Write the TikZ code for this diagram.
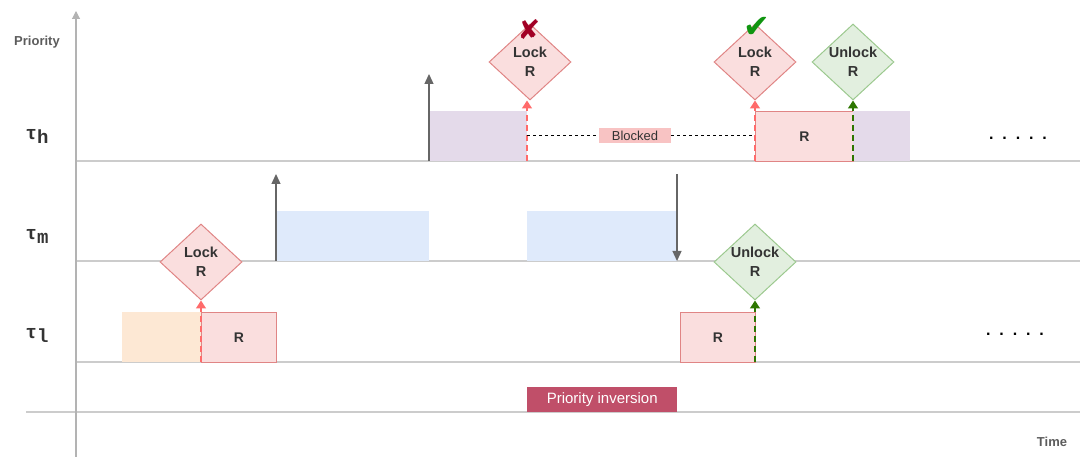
\documentclass[tikz,border=0pt]{standalone}
\usepackage{fontspec}
\setmainfont{Liberation Sans}
\newfontfamily\monofont{Liberation Mono}
\newfontfamily\symfont{DejaVu Sans}
\usetikzlibrary{shapes.geometric,arrows.meta}
\definecolor{gridc}{HTML}{CCCCCC}
\definecolor{axisc}{HTML}{B3B3B3}
\definecolor{txtc}{HTML}{333333}
\definecolor{arrc}{HTML}{666666}
\definecolor{purplef}{HTML}{E4DAEA}
\definecolor{bluef}{HTML}{DFEAFB}
\definecolor{orangef}{HTML}{FDE8D4}
\definecolor{redf}{HTML}{FADEDE}
\definecolor{redd}{HTML}{E08585}
\definecolor{redarr}{HTML}{FF6B6B}
\definecolor{greenf}{HTML}{E2EFDF}
\definecolor{greend}{HTML}{9CC98F}
\definecolor{greenarr}{HTML}{2D7600}
\definecolor{blockf}{HTML}{F8C3C3}
\definecolor{invf}{HTML}{C04F69}
\definecolor{crossc}{HTML}{A20025}
\definecolor{checkc}{HTML}{109510}
\tikzset{
  gridline/.style={draw=gridc, line width=1.1pt},
  axis/.style={draw=axisc, line width=1.1pt, -{Triangle[length=8pt,width=8pt]}},
  preempt/.style={draw=arrc, line width=1.3pt, -{Triangle[length=10pt,width=9pt]}},
  taskbox/.style={draw=none, inner sep=0pt, anchor=north west},
  resbox/.style={draw=redd, fill=redf, line width=1pt, inner sep=0pt, anchor=north west,
     font=\fontsize{14}{16}\selectfont\bfseries, text=txtc},
  lockd/.style={diamond, draw=redd, fill=redf, line width=1pt, inner sep=0pt,
     minimum width=82pt, minimum height=76pt, aspect=1.08},
  unlockd/.style={diamond, draw=greend, fill=greenf, line width=1pt, inner sep=0pt,
     minimum width=82pt, minimum height=76pt, aspect=1.08},
  dlabel/.style={align=center, inner sep=0pt, font=\fontsize{14.5}{19}\selectfont\bfseries, text=txtc},
  reddash/.style={draw=redarr, line width=1.3pt, dash pattern=on 6pt off 4pt,
     -{Triangle[length=8pt,width=10pt]}},
  greendash/.style={draw=greenarr, line width=1.3pt, dash pattern=on 6pt off 4pt,
     -{Triangle[length=8pt,width=10pt]}},
  tasklbl/.style={font=\monofont\fontsize{19}{20}\selectfont\bfseries, text=txtc},
  axlbl/.style={font=\fontsize{13}{15}\selectfont\bfseries, text=arrc!90!black},
  dots/.style={font=\fontsize{16}{16}\selectfont\bfseries, text=black},
  signmark/.style={inner sep=0pt},
}
\begin{document}
\begin{tikzpicture}[x=1pt,y=-1pt]
\useasboundingbox (0,0) rectangle (1080,457);
% grid lines
\coordinate (g1a) at (76,161); \coordinate (g1b) at (1080,161);
\coordinate (g2a) at (76,261); \coordinate (g2b) at (1080,261);
\coordinate (g3a) at (76,362); \coordinate (g3b) at (1080,362);
\coordinate (g4a) at (26,412); \coordinate (g4b) at (1080,412);
\draw[gridline] (g1a) -- (g1b);
\draw[gridline] (g2a) -- (g2b);
\draw[gridline] (g3a) -- (g3b);
\draw[gridline] (g4a) -- (g4b);
% axis
\coordinate (ax0) at (76,457); \coordinate (ax1) at (76,11);
\draw[axis] (ax0) -- (ax1);
\node[axlbl] (prio) at (37,42) {Priority};
\node[axlbl] (time) at (1052,442) {Time};
% task labels
\node[tasklbl] (th) at (37,136) {τ\raisebox{-4pt}{h}};
\node[tasklbl] (tm) at (37,236) {τ\raisebox{-4pt}{m}};
\node[tasklbl] (tl) at (37,335) {τ\raisebox{-4pt}{l}};
% high task
\node[taskbox, fill=purplef, minimum width=98pt, minimum height=50pt] (h1) at (429,111) {};
\node[resbox, minimum width=98pt, minimum height=50pt] (hR) at (755,111) {R};
\node[taskbox, fill=purplef, minimum width=57pt, minimum height=50pt] (h2) at (853,111) {};
% medium task
\node[taskbox, fill=bluef, minimum width=153pt, minimum height=50pt] (m1) at (276,211) {};
\node[taskbox, fill=bluef, minimum width=150pt, minimum height=50pt] (m2) at (527,211) {};
% low task
\node[taskbox, fill=orangef, minimum width=79pt, minimum height=50pt] (l1) at (122,312) {};
\node[resbox, minimum width=75pt, minimum height=50pt] (lR1) at (201,312) {R};
\node[resbox, minimum width=75pt, minimum height=50pt] (lR2) at (680,312) {R};
% diamonds
\node[lockd, label={[dlabel]center:Lock\\R}] (lockH1) at (530,62) {};
\node[lockd, label={[dlabel]center:Lock\\R}] (lockH2) at (755,62) {};
\node[unlockd, label={[dlabel]center:Unlock\\R}] (unlockH) at (853,62) {};
\node[lockd, label={[dlabel]center:Lock\\R}] (lockL) at (201,262) {};
\node[unlockd, label={[dlabel]center:Unlock\\R}] (unlockL) at (755,262) {};
% marks
\node[signmark, font=\symfont\fontsize{27}{27}\selectfont\bfseries, text=crossc] (cross) at (529,30) {✘};
\node[signmark, font=\symfont\fontsize{32}{32}\selectfont, text=checkc] (check) at (757,27) {✔};
% preemption arrows
\coordinate (p1a) at (429,161); \coordinate (p1b) at (429,74);
\draw[preempt] (p1a) -- (p1b);
\coordinate (p2a) at (276,261); \coordinate (p2b) at (276,174);
\draw[preempt] (p2a) -- (p2b);
\coordinate (p3a) at (677,174); \coordinate (p3b) at (677,261);
\draw[preempt] (p3a) -- (p3b);
% lock/unlock connectors
\coordinate (c1) at (527,161);
\draw[reddash] (c1) -- (c1 |- lockH1.south);
\coordinate (c2) at (755,161);
\draw[reddash] (c2) -- (lockH2.south);
\coordinate (c3) at (853,161);
\draw[greendash] (c3) -- (unlockH.south);
\coordinate (c4) at (201,362);
\draw[reddash] (c4) -- (lockL.south);
\coordinate (c5) at (755,362);
\draw[greendash] (c5) -- (unlockL.south);
% blocked
\node[fill=blockf, minimum width=72pt, minimum height=15pt, inner sep=0pt,
      font=\fontsize{13}{14}\selectfont, text=txtc] (blk) at (635,136) {Blocked};
\coordinate (b0) at (527,136); \coordinate (b1) at (755,136);
\draw[black, line width=1pt, dash pattern=on 3pt off 3pt] (b0) -- (blk.west);
\draw[black, line width=1pt, dash pattern=on 3pt off 3pt] (blk.east) -- (b1);
% priority inversion
\node[fill=invf, minimum width=150pt, minimum height=25pt, inner sep=0pt, anchor=north west,
      font=\fontsize{15}{17}\selectfont, text=white] (inv) at (527,387) {Priority inversion};
% dots
\node[dots] (dh) at (1018,138) {.\ \ .\ \ .\ \ .\ \ .};
\node[dots] (dl) at (1015,334) {.\ \ .\ \ .\ \ .\ \ .};
\end{tikzpicture}
\end{document}
